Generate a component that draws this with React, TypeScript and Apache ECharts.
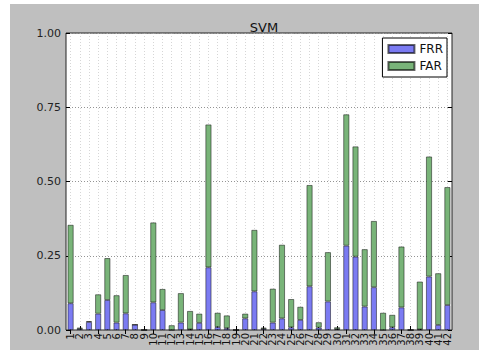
import React, { useEffect, useRef } from "react";
import * as echarts from "echarts";

// Subject ids along the x axis
const categories = [
  "1", "2", "3", "4", "5", "6", "7", "8", "9", "10",
  "11", "12", "13", "14", "15", "16", "17", "18", "19", "20",
  "21", "22", "23", "24", "25", "26", "27", "28", "29", "30",
  "31", "32", "33", "34", "35", "36", "37", "38", "39", "40",
  "41", "42",
];

// False rejection rate per subject (bottom of each stack)
const frr = [
  0.090, 0.004, 0.027, 0.055, 0.101, 0.025, 0.056, 0.018, 0, 0.093,
  0.067, 0, 0.025, 0.002, 0.024, 0.211, 0.010, 0.006, 0, 0.039,
  0.130, 0.004, 0.025, 0.039, 0.009, 0.034, 0.147, 0.008, 0.096, 0.003,
  0.284, 0.247, 0.079, 0.144, 0, 0.009, 0.076, 0, 0.002, 0.180,
  0.017, 0.084,
];

// False acceptance rate per subject (stacked on top)
const far = [
  0.264, 0.004, 0.003, 0.065, 0.141, 0.092, 0.129, 0, 0, 0.269,
  0.071, 0.016, 0.099, 0.062, 0.031, 0.481, 0.048, 0.043, 0, 0.016,
  0.207, 0.004, 0.114, 0.248, 0.095, 0.044, 0.341, 0.018, 0.166, 0.006,
  0.442, 0.371, 0.193, 0.223, 0.058, 0.042, 0.205, 0, 0.161, 0.404,
  0.174, 0.397,
];

const yTicks = [0, 0.25, 0.5, 0.75, 1];

const FONT = "DejaVu Sans";

export default function App() {
  const ref = useRef<HTMLDivElement>(null);

  useEffect(() => {
    if (!ref.current) return;
    const chart = echarts.init(ref.current, undefined, { renderer: "svg" });
    const tickStyle = { color: "#000", width: 1 };
    chart.setOption({
      animation: false,
      textStyle: { fontFamily: FONT },
      title: {
        text: "SVM",
        left: 259,
        textAlign: "center",
        top: 16,
        textStyle: { fontSize: 13, fontWeight: "normal", color: "#111", fontFamily: FONT },
      },
      legend: {
        orient: "vertical",
        right: 32,
        top: 38,
        itemWidth: 26,
        itemHeight: 8,
        itemGap: 5,
        icon: "rect",
        padding: [5, 4, 5, 5],
        backgroundColor: "#fff",
        borderColor: "#000",
        borderWidth: 1,
        textStyle: { fontSize: 12, color: "#111", fontFamily: FONT },
        data: ["FRR", "FAR"],
      },
      grid: {
        left: 66,
        right: 27,
        top: 33,
        bottom: 30,
        show: true,
        backgroundColor: "#fff",
        borderColor: "#222",
        borderWidth: 1,
      },
      xAxis: [
        {
          type: "category",
          data: categories,
          position: "bottom",
          axisLine: { show: false },
          axisTick: { show: true, inside: true, alignWithLabel: true, length: 4, lineStyle: tickStyle },
          axisLabel: {
            rotate: 90,
            interval: 0,
            fontSize: 10,
            margin: 3,
            color: "#111",
            fontFamily: FONT,
          },
          splitLine: {
            show: true,
            alignWithLabel: true,
            interval: 0,
            lineStyle: { type: [1, 2], color: "#bbb", width: 0.6 },
          },
        },
        {
          type: "category",
          data: categories,
          position: "top",
          axisLine: { show: false },
          axisTick: { show: true, inside: true, alignWithLabel: true, length: 4, lineStyle: tickStyle },
          axisLabel: { show: false },
          splitLine: { show: false },
        },
      ],
      yAxis: [
        {
          type: "value",
          min: yTicks[0],
          max: yTicks[yTicks.length - 1],
          interval: 0.25,
          axisLine: { show: false },
          axisTick: { show: true, inside: true, length: 4, lineStyle: tickStyle },
          axisLabel: {
            formatter: (v: number) => v.toFixed(2),
            fontSize: 11,
            margin: 5,
            color: "#222",
            fontFamily: FONT,
          },
          splitLine: { show: true, lineStyle: { type: [1, 2], color: "#777", width: 0.8 } },
        },
        {
          type: "value",
          position: "right",
          min: yTicks[0],
          max: yTicks[yTicks.length - 1],
          interval: 0.25,
          axisLine: { show: false },
          axisTick: { show: true, inside: true, length: 4, lineStyle: tickStyle },
          axisLabel: { show: false },
          splitLine: { show: false },
        },
      ],
      series: [
        {
          name: "FRR",
          type: "bar",
          stack: "rates",
          data: frr,
          barWidth: 6,
          itemStyle: { color: "#7b7bf2", borderColor: "rgba(0,0,0,0.6)", borderWidth: 0.8 },
        },
        {
          name: "FAR",
          type: "bar",
          stack: "rates",
          data: far,
          barWidth: 6,
          itemStyle: { color: "#79b479", borderColor: "rgba(0,0,0,0.6)", borderWidth: 0.8 },
        },
      ],
    });
    return () => chart.dispose();
  }, []);

  return (
    <div style={{ position: "absolute", left: 0, top: 0, width: 479, height: 360, background: "#fff" }}>
      <div style={{ position: "absolute", left: 10, top: 4, width: 469, height: 346, background: "#bfbfbf" }} />
      <div ref={ref} style={{ position: "absolute", left: 0, top: 0, width: 479, height: 360 }} />
    </div>
  );
}
